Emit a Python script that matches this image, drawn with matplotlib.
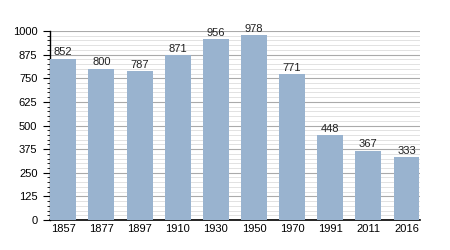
import matplotlib.pyplot as plt
from matplotlib.ticker import MultipleLocator

plt.rcParams['font.family'] = ['Liberation Sans', 'DejaVu Sans']

years = ['1857', '1877', '1897', '1910', '1930', '1950', '1970', '1991', '2011', '2016']
population = [852, 800, 787, 871, 956, 978, 771, 448, 367, 333]

fig = plt.figure(figsize=(4.5, 2.5), dpi=100)
ax = fig.add_axes([0.111, 0.12, 0.822, 0.756])

x = range(len(years))
ax.bar(x, population, width=0.68, color='#99b3cf', zorder=3)

# value labels above the bars
for i, v in enumerate(population):
    ax.text(i, v + 8, str(v), ha='center', va='bottom', fontsize=8, color='#222222', zorder=4)

ax.set_xlim(-0.35, 9.35)
ax.set_ylim(0, 1000)
ax.set_xticks(list(x))
ax.set_xticklabels(years, fontsize=8)
ax.yaxis.set_major_locator(MultipleLocator(125))
ax.yaxis.set_minor_locator(MultipleLocator(25))
ax.tick_params(axis='y', labelsize=8, length=5, width=0.8, pad=4)
ax.tick_params(axis='y', which='minor', length=2.5, width=0.6)
ax.tick_params(axis='x', length=0, pad=3)

# grid lines
ax.grid(axis='y', which='major', color='#aaaaaa', linewidth=0.8, zorder=1)
ax.grid(axis='y', which='minor', color='#dddddd', linewidth=0.6, zorder=1)

for s in ['top', 'right']:
    ax.spines[s].set_visible(False)
ax.spines['left'].set_linewidth(1)
ax.spines['bottom'].set_linewidth(1.2)

fig.savefig('out.png', dpi=100)
